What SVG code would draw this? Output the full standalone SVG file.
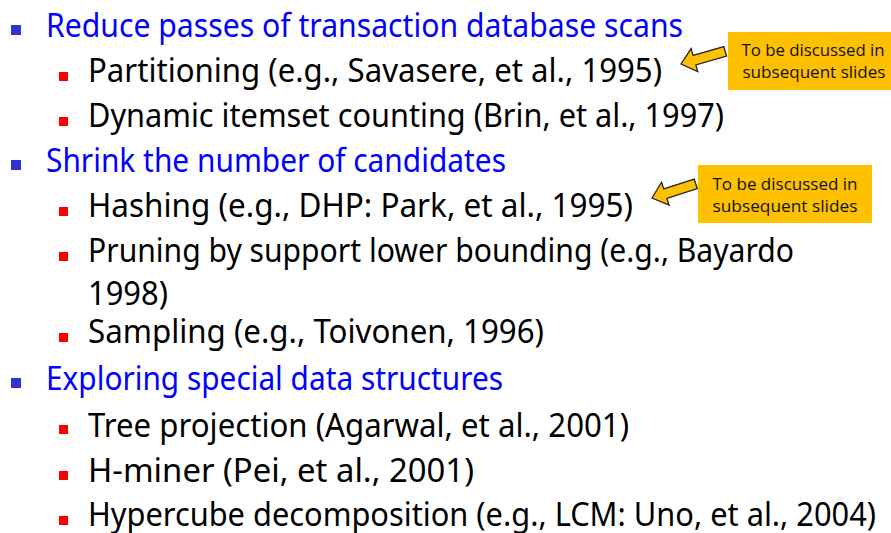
<svg xmlns="http://www.w3.org/2000/svg" width="891" height="533" viewBox="0 0 891 533">
<style>
.l1{font-family:"Noto Sans","DejaVu Sans",Verdana,sans-serif;font-size:33px;fill:#0000FF}
.l2{font-family:"Noto Sans","DejaVu Sans",Verdana,sans-serif;font-size:33px;fill:#000000}
.b1{fill:#3333CC}
.b2{fill:#FF0000}
.box{fill:#FFC000}
.ct{font-family:"Open Sans","Liberation Sans",sans-serif;font-size:17px;fill:#111;text-anchor:middle}
.arr{fill:#FFC000;stroke:#222;stroke-width:1.3;stroke-linejoin:miter}
</style>
<defs>
<path id="blk" d="M0,0 L14,-12 L14,-5 L46,-5 L46,5 L14,5 L14,12 Z"/>
</defs>
<rect width="891" height="533" fill="#fff"/>
<g id="list">
<rect class="b1" x="11" y="25" width="10" height="10"/>
<text class="l1" x="46" y="37" textLength="637" lengthAdjust="spacingAndGlyphs">Reduce passes of transaction database scans</text>
<rect class="b2" x="59" y="72" width="9" height="9"/>
<text class="l2" x="88" y="82" textLength="574" lengthAdjust="spacingAndGlyphs">Partitioning (e.g., Savasere, et al., 1995)</text>
<rect class="b2" x="59" y="117" width="9" height="9"/>
<text class="l2" x="88" y="127" textLength="636" lengthAdjust="spacingAndGlyphs">Dynamic itemset counting (Brin, et al., 1997)</text>
<rect class="b1" x="11" y="160" width="10" height="10"/>
<text class="l1" x="46" y="172" textLength="460" lengthAdjust="spacingAndGlyphs">Shrink the number of candidates</text>
<rect class="b2" x="59" y="207" width="9" height="9"/>
<text class="l2" x="88" y="217" textLength="545" lengthAdjust="spacingAndGlyphs">Hashing (e.g., DHP: Park, et al., 1995)</text>
<rect class="b2" x="59" y="252" width="9" height="9"/>
<text class="l2" x="88" y="262" textLength="706" lengthAdjust="spacingAndGlyphs">Pruning by support lower bounding (e.g., Bayardo</text>
<text class="l2" x="88" y="305" textLength="80" lengthAdjust="spacingAndGlyphs">1998)</text>
<rect class="b2" x="59" y="333" width="9" height="9"/>
<text class="l2" x="88" y="343" textLength="456" lengthAdjust="spacingAndGlyphs">Sampling (e.g., Toivonen, 1996)</text>
<rect class="b1" x="11" y="378" width="10" height="10"/>
<text class="l1" x="46" y="390" textLength="457" lengthAdjust="spacingAndGlyphs">Exploring special data structures</text>
<rect class="b2" x="59" y="425" width="9" height="9"/>
<text class="l2" x="88" y="437" textLength="541" lengthAdjust="spacingAndGlyphs">Tree projection (Agarwal, et al., 2001)</text>
<rect class="b2" x="59" y="471" width="9" height="9"/>
<text class="l2" x="88" y="482" textLength="386" lengthAdjust="spacingAndGlyphs">H-miner (Pei, et al., 2001)</text>
<rect class="b2" x="59" y="516" width="9" height="9"/>
<text class="l2" x="88" y="526" textLength="788" lengthAdjust="spacingAndGlyphs">Hypercube decomposition (e.g., LCM: Uno, et al., 2004)</text>
</g>
<g id="callout1">
<rect class="box" x="728" y="32" width="163" height="58"/>
<text class="ct" x="813" y="56" textLength="143" lengthAdjust="spacingAndGlyphs">To be discussed in</text>
<text class="ct" x="814" y="78" textLength="143" lengthAdjust="spacingAndGlyphs">subsequent slides</text>
</g>
<g id="callout2">
<rect class="box" x="698" y="165" width="174" height="58"/>
<text class="ct" x="785" y="190" textLength="145" lengthAdjust="spacingAndGlyphs">To be discussed in</text>
<text class="ct" x="785" y="212" textLength="145" lengthAdjust="spacingAndGlyphs">subsequent slides</text>
</g>
<g id="connectors">
<use href="#blk" class="arr" transform="translate(681,64) rotate(-16)"/>
<use href="#blk" class="arr" transform="translate(652,198) rotate(-18)"/>
</g>
</svg>
